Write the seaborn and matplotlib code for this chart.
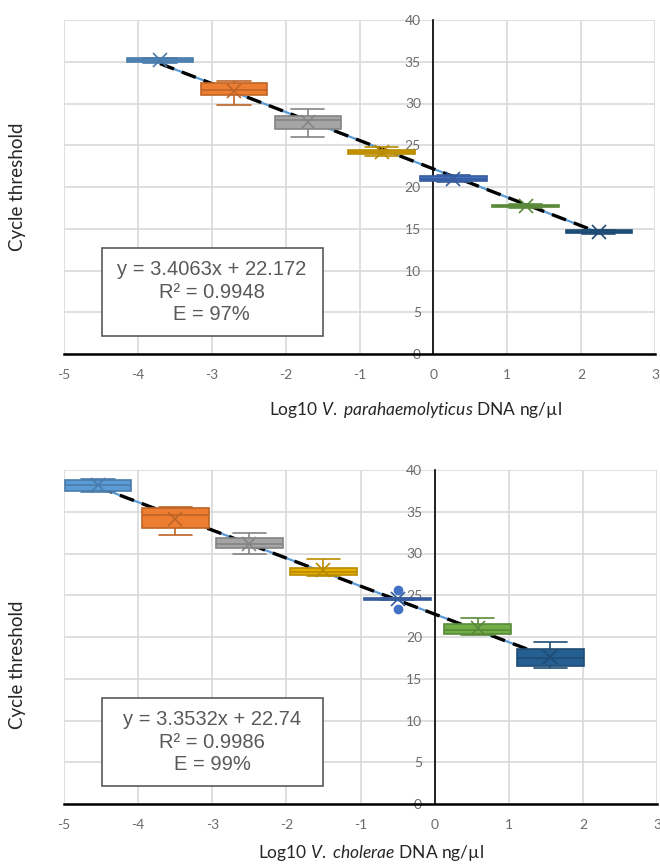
"""qPCR standard curves for V. parahaemolyticus and V. cholerae."""

import numpy as np
import pandas as pd
import matplotlib
matplotlib.use("Agg")
import matplotlib.pyplot as plt
import matplotlib.colors as mcolors
from matplotlib.patches import Rectangle
import seaborn as sns

# V. parahaemolyticus: log10 DNA (ng/ul) and Ct replicates per dilution
vp_log_conc = [-3.70, -2.70, -1.70, -0.70, 0.27, 1.25, 2.24]
vp_ct = [
    [34.9, 34.95, 35.2, 35.45, 35.5],
    [29.8, 31.0, 31.6, 32.5, 32.7],
    [26.0, 27.0, 28.0, 28.5, 29.4],
    [23.7, 24.0, 24.2, 24.45, 24.8],
    [20.6, 20.7, 21.0, 21.3, 21.4],
    [17.5, 17.65, 17.75, 17.85, 18.0],
    [14.4, 14.55, 14.65, 14.8, 14.9],
]
vp_fit = {"slope": 3.4063, "intercept": 22.172, "r2": "0.9948", "eff": "97%"}

# V. cholerae
vc_log_conc = [-4.54, -3.50, -2.50, -1.50, -0.50, 0.58, 1.56]
vc_ct = [
    [37.4, 37.5, 38.2, 38.8, 38.9],
    [32.2, 33.0, 34.6, 35.5, 35.6],
    [29.9, 30.6, 31.1, 31.8, 32.4],
    [27.3, 27.4, 27.8, 28.3, 29.3],
    [23.4, 24.4, 24.55, 24.7, 25.6],
    [20.2, 20.3, 20.8, 21.6, 22.3],
    [16.3, 16.5, 17.5, 18.6, 19.4],
]
vc_fit = {"slope": 3.3532, "intercept": 22.74, "r2": "0.9986", "eff": "99%"}

x_ticks = list(range(-5, 4))
y_ticks = list(range(0, 41, 5))

box_colors = ["#5B9BD5", "#ED7D31", "#A5A5A5", "#E6AE00",
              "#4472C4", "#70AD47", "#255E91"]
GRID = "#D9D9D9"
TICK_GRAY = "#6B6B6B"
EQ_GRAY = "#595959"


def darken(color, factor=0.8):
    r, g, b = mcolors.to_rgb(color)
    return (r * factor, g * factor, b * factor)


def draw_panel(ax, log_conc, ct, fit):
    """Box per dilution, fitted line and equation box."""
    # trend line first so the boxes sit on top of it
    xs = np.array([log_conc[0], log_conc[-1]])
    ys = fit["intercept"] - fit["slope"] * xs
    ax.plot(xs, ys, color="#5B9BD5", lw=1.6, zorder=2)
    ax.plot(xs, ys, color="black", lw=2.4, dashes=(4.5, 2.5), zorder=2.2)

    for x, vals, col in zip(log_conc, ct, box_colors):
        df = pd.DataFrame({"log_conc": [x] * len(vals), "ct": vals})
        edge = darken(col)
        sns.boxplot(data=df, x="log_conc", y="ct", native_scale=True,
                    width=0.9, color=col, linecolor=edge, linewidth=1.2,
                    saturation=1, showmeans=True, fliersize=6,
                    meanprops=dict(marker="x", markeredgecolor=edge,
                                   markerfacecolor=edge, markersize=10,
                                   markeredgewidth=1.2),
                    flierprops=dict(marker="o", markerfacecolor=col,
                                    markeredgecolor=col),
                    ax=ax, zorder=3)

    ax.set_xlim(-5, 3)
    ax.set_ylim(0, 40)
    ax.set_xticks(x_ticks)
    ax.set_yticks(y_ticks)
    ax.set_xticklabels([str(t) for t in x_ticks])
    ax.set_yticklabels([str(t) for t in y_ticks])
    ax.grid(True, color=GRID, lw=1.2)
    ax.set_axisbelow(True)
    ax.set_xlabel("")
    ax.set_ylabel("")
    for s in ["top", "right"]:
        ax.spines[s].set_visible(False)
    ax.spines["left"].set_position(("data", 0))
    ax.spines["left"].set_color("black")
    ax.spines["left"].set_linewidth(1.2)
    ax.spines["left"].set_zorder(2.5)
    ax.spines["bottom"].set_color("black")
    ax.spines["bottom"].set_linewidth(1.8)
    ax.tick_params(length=0, colors=TICK_GRAY, labelsize=10)
    ax.tick_params(axis="y", pad=9)
    ax.tick_params(axis="x", pad=11)

    ax.add_patch(Rectangle((-4.49, 2.1), 2.99, 10.6, facecolor="white",
                           edgecolor=EQ_GRAY, lw=1.2, zorder=5))
    eq = (f"y = {fit['slope']}x + {fit['intercept']}\n"
          f"R\u00b2 = {fit['r2']}\nE = {fit['eff']}")
    ax.text(-3.0, 7.4, eq, ha="center", va="center", fontsize=14.5,
            color=EQ_GRAY, family="Liberation Sans", linespacing=1.22,
            zorder=6)


sns.set_style("white")
plt.rcParams["font.family"] = ["Lato", "DejaVu Sans"]
plt.rcParams["mathtext.fontset"] = "custom"
plt.rcParams["mathtext.rm"] = "Lato"
plt.rcParams["mathtext.it"] = "Lato:italic"

fig = plt.figure(figsize=(6.6, 8.64), dpi=100)
ax_vp = fig.add_axes([64 / 660, 1 - 354 / 864, 591 / 660, 334 / 864])
ax_vc = fig.add_axes([64 / 660, 1 - 804 / 864, 593 / 660, 334 / 864])

draw_panel(ax_vp, vp_log_conc, vp_ct, vp_fit)
draw_panel(ax_vc, vc_log_conc, vc_ct, vc_fit)

fig.text(18 / 660, 1 - 187 / 864, "Cycle threshold", rotation=90,
         ha="center", va="center", fontsize=13.5)
fig.text(18 / 660, 1 - 665 / 864, "Cycle threshold", rotation=90,
         ha="center", va="center", fontsize=13.5)
fig.text(415 / 660, 1 - 410 / 864,
         r"Log10 $\mathit{V.}$ $\mathit{parahaemolyticus}$ DNA ng/µl",
         ha="center", va="center", fontsize=12.5)
fig.text(371 / 660, 1 - 853 / 864,
         r"Log10 $\mathit{V.}$ $\mathit{cholerae}$ DNA ng/µl",
         ha="center", va="center", fontsize=12.5)

fig.savefig("out.png", dpi=100)
